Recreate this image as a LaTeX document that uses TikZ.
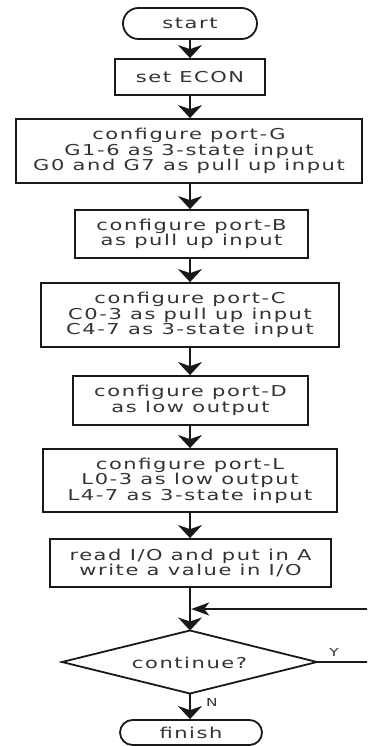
\documentclass[tikz,border=0pt]{standalone}
\usepackage{fontspec}
\setmainfont{DejaVu Sans}[FakeStretch=1.4, LetterSpace=10.5]
\usetikzlibrary{arrows.meta}

\tikzset{
  ink/.style={draw=black!90, line width=1.8pt},
  stepbox/.style={ink, rectangle, inner sep=0pt},
  terminal/.style={ink, rectangle, rounded corners=#1, inner sep=0pt},
  flow/.style={draw=black!90, line width=2.4pt,
    -{Stealth[length=13pt, width=24pt, inset=4pt]}},
  backflow/.style={draw=black!90, line width=2.4pt,
    -{Stealth[length=18pt, width=13pt, inset=5pt]}},
  branch/.style={font=\fontsize{11}{12}\selectfont, text=black!80},
}

\begin{document}
\begin{tikzpicture}[x=1pt, y=-1pt,
  every node/.style={font=\fontsize{15}{15.5}\selectfont, text=black!80, align=center}]
  \useasboundingbox (0,0) rectangle (367,746);
  \fill[white] (0,0) rectangle (367,746);
  \clip (0,0) rectangle (367,746);

  % process chain
  \node[terminal=15.5pt, minimum width=134pt, minimum height=31pt] (start) at (190,23.5) {start};
  \node[stepbox, minimum width=150pt, minimum height=36pt] (econ) at (190,77) {set ECON};
  \node[stepbox, minimum width=346pt, minimum height=64pt] (portg) at (189,151)
    {configure port-G\\G1-6 as 3-state input\\G0 and G7 as pull up input};
  \node[stepbox, minimum width=233pt, minimum height=48pt] (portb) at (191.5,234)
    {configure port-B\\as pull up input};
  \node[stepbox, minimum width=298pt, minimum height=64pt] (portc) at (190,315)
    {configure port-C\\C0-3 as pull up input\\C4-7 as 3-state input};
  \node[stepbox, minimum width=235pt, minimum height=49pt] (portd) at (190.5,400.5)
    {configure port-D\\as low output};
  \node[stepbox, minimum width=294pt, minimum height=63pt] (portl) at (190,480.5)
    {configure port-L\\L0-3 as low output\\L4-7 as 3-state input};
  \node[stepbox, minimum width=281pt, minimum height=48pt] (rdwr) at (190.5,563)
    {read I/O and put in A\\write a value in I/O};

  % decision: text node with a flat diamond drawn round it
  \node (cont) at (189.5,663) {continue?};
  \coordinate (dtop) at (190,630.5);
  \coordinate (dbot) at (190,693.5);
  \coordinate (dleft) at (62,662);
  \coordinate (dright) at (317,662);
  \draw[ink, line join=miter] (dtop) -- (dright) -- (dbot) -- (dleft) -- cycle;

  \node[terminal=12.5pt, minimum width=142pt, minimum height=25pt] (finish) at (191,732.5) {finish};

  % branch labels
  \node[branch] (nlab) at (212,702) {N};
  \node[branch] (ylab) at (334,652) {Y};

  % loop-back corners, just past the right edge
  \coordinate (yout) at (370,662);
  \coordinate (ytop) at (370,609);

  % connectors, all on the common centre line
  \coordinate (axis) at (190,0);
  \draw[flow] (start.south -| axis) -- (econ.north -| axis);
  \draw[flow] (econ.south -| axis) -- (portg.north -| axis);
  \draw[flow] (portg.south -| axis) -- (portb.north -| axis);
  \draw[flow] (portb.south -| axis) -- (portc.north -| axis);
  \draw[flow] (portc.south -| axis) -- (portd.north -| axis);
  \draw[flow] (portd.south -| axis) -- (portl.north -| axis);
  \draw[flow] (portl.south -| axis) -- (rdwr.north -| axis);
  \draw[flow] (rdwr.south -| axis) -- (dtop);
  \draw[flow] (dbot) -- (finish.north -| axis);
  \draw[backflow, shorten >=1.2pt] (dright) -- (yout) -- (ytop) -- (dtop |- ytop);
\end{tikzpicture}
\end{document}
